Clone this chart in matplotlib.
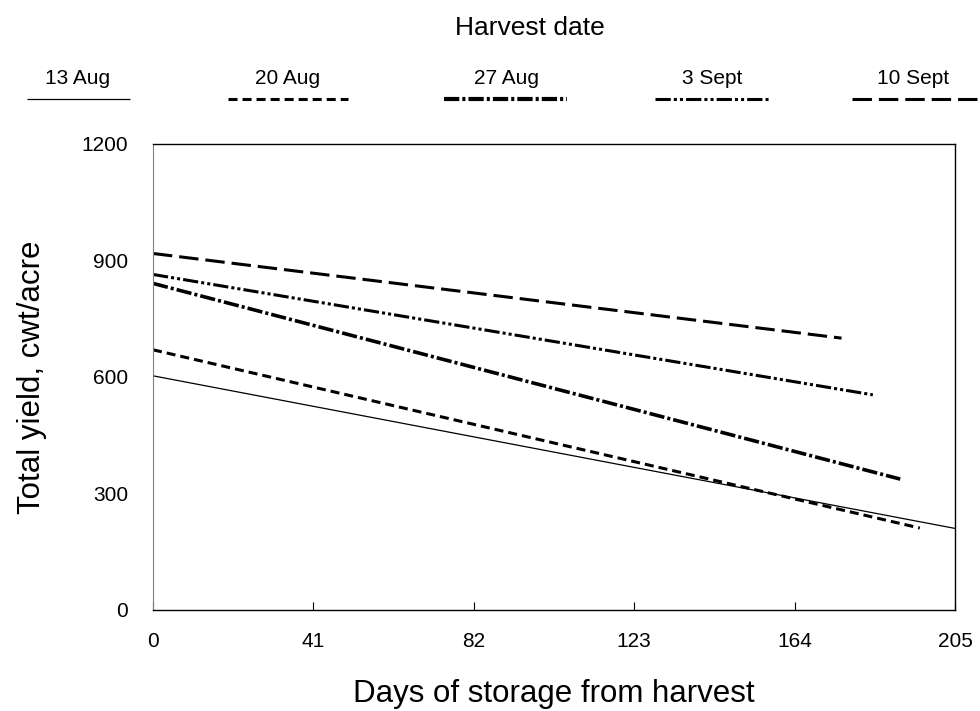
import matplotlib

matplotlib.use("Agg")

import matplotlib.pyplot as plt
from matplotlib.lines import Line2D

plt.rcParams["font.family"] = ["Liberation Sans", "DejaVu Sans"]
plt.rcParams["lines.scale_dashes"] = False

# Harvest dates and the fitted yield lines (start / end of storage)
harvest_dates = ["13 Aug", "20 Aug", "27 Aug", "3 Sept", "10 Sept"]
days_start = [0, 0, 0, 0, 0]
days_end = [205, 196, 191, 184, 176]
yield_start = [603, 670, 841, 864, 918]
yield_end = [210, 211, 337, 554, 700]

x_ticks = [0, 41, 82, 123, 164, 205]
y_ticks = [0, 300, 600, 900, 1200]

# line styles: (linewidth in pt, dash pattern in pt)
styles = [
    (0.9, "solid"),
    (2.2, (0, (6.5, 3.6))),
    (2.6, (0, (11, 2.2, 2.2, 2.2))),
    (2.2, (0, (11, 2.2, 2.2, 2.2, 2.2, 2.2))),
    (2.2, (0, (14, 5))),
]

fig = plt.figure(figsize=(9.8, 7.11), dpi=100)
ax = fig.add_axes([0.1561, 0.1421, 0.8184, 0.6554])

for i, label in enumerate(harvest_dates):
    lw, ls = styles[i]
    ax.plot([days_start[i], days_end[i]], [yield_start[i], yield_end[i]],
            color="black", linewidth=lw, linestyle=ls, solid_capstyle="butt",
            dash_capstyle="butt")

ax.set_xlim(0, 205)
ax.set_ylim(0, 1200)
ax.set_xticks(x_ticks)
ax.set_yticks(y_ticks)
ax.tick_params(axis="x", direction="in", length=6, width=0.8, labelsize=15, pad=16)
ax.tick_params(axis="y", length=0, labelsize=15, pad=18)
ax.spines["left"].set_color("#808080")
for side in ("top", "right", "bottom"):
    ax.spines[side].set_color("black")
    ax.spines[side].set_linewidth(1.0)

ax.set_xlabel("Days of storage from harvest", fontsize=22.5, labelpad=20)
ax.set_ylabel("Total yield, cwt/acre", fontsize=22.5, labelpad=25)

# legend strip across the top: label above each line sample
leg = fig.add_axes([0, 0.84, 1, 0.16])
leg.set_xlim(0, 980)
leg.set_ylim(0, 1)
leg.axis("off")
leg.text(530, 0.755, "Harvest date", ha="center", va="center", fontsize=19)
sample_x = [(27, 130), (228, 348), (444, 567), (655, 770), (852, 985)]
text_x = [78, 288, 506, 712, 913]
for i, label in enumerate(harvest_dates):
    lw, ls = styles[i]
    if i == 2:
        lw = 3.0
    leg.add_line(Line2D(sample_x[i], [0.13, 0.13], color="black", linewidth=lw,
                        linestyle=ls, solid_capstyle="butt", dash_capstyle="butt"))
    leg.text(text_x[i], 0.31, label, ha="center", va="center", fontsize=15)

fig.savefig("out.png", dpi=100)
